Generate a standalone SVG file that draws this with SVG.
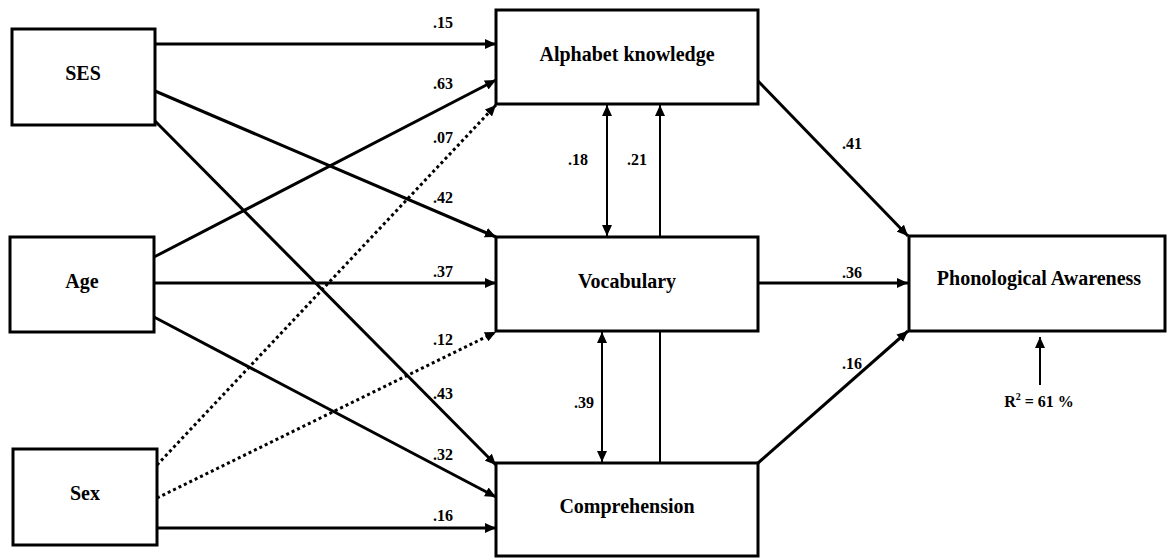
<svg xmlns="http://www.w3.org/2000/svg" width="1167" height="559" viewBox="0 0 1167 559">
<defs>
<marker id="ah" markerUnits="userSpaceOnUse" markerWidth="12" markerHeight="10" refX="11" refY="5" orient="auto">
<path d="M0,0 L11,5 L0,10 Z" fill="#000"/>
</marker>
<marker id="ahs" markerUnits="userSpaceOnUse" markerWidth="12" markerHeight="10" refX="0" refY="5" orient="auto">
<path d="M11,0 L0,5 L11,10 Z" fill="#000"/>
</marker>
<style>
.box{fill:#fff;stroke:#000;stroke-width:3}
.t{font-family:"Liberation Serif","Times New Roman",serif;font-weight:bold;font-size:20px;text-anchor:middle;fill:#000}
.n{font-family:"Liberation Serif","Times New Roman",serif;font-weight:bold;font-size:16px;text-anchor:middle;fill:#000}
.c{fill:none;stroke:#000;stroke-width:3}
.thin{fill:none;stroke:#000;stroke-width:2}
.dot{stroke-dasharray:3 3}
</style>
</defs>
<g id="connectors">
<line class="c" x1="155" y1="44" x2="496" y2="44" marker-end="url(#ah)"/>
<line class="c" x1="154" y1="257" x2="496" y2="80" marker-end="url(#ah)"/>
<line class="c dot" x1="157" y1="465" x2="496" y2="105" marker-end="url(#ah)"/>
<line class="c" x1="155" y1="91" x2="496" y2="237" marker-end="url(#ah)"/>
<line class="c" x1="155" y1="121" x2="496" y2="465" marker-end="url(#ah)"/>
<line class="c" x1="154" y1="283" x2="496" y2="283" marker-end="url(#ah)"/>
<line class="c" x1="154" y1="317" x2="496" y2="497" marker-end="url(#ah)"/>
<line class="c dot" x1="157" y1="498" x2="496" y2="332" marker-end="url(#ah)"/>
<line class="c" x1="157" y1="528" x2="496" y2="528" marker-end="url(#ah)"/>
<line class="thin" x1="607" y1="105" x2="607" y2="236" marker-start="url(#ahs)" marker-end="url(#ah)"/>
<line class="thin" x1="660" y1="236" x2="660" y2="105" marker-end="url(#ah)"/>
<line class="thin" x1="602" y1="332" x2="602" y2="462" marker-start="url(#ahs)" marker-end="url(#ah)"/>
<line class="thin" x1="660" y1="332" x2="660" y2="462"/>
<line class="c" x1="758" y1="81" x2="908" y2="236" marker-end="url(#ah)"/>
<line class="c" x1="758" y1="283" x2="908" y2="283" marker-end="url(#ah)"/>
<line class="c" x1="758" y1="463" x2="908" y2="331" marker-end="url(#ah)"/>
<line class="thin" x1="1040" y1="385" x2="1040" y2="337" marker-end="url(#ah)"/>
</g>
<g id="labels">
<text class="n" x="443" y="28">.15</text>
<text class="n" x="443" y="89">.63</text>
<text class="n" x="443" y="143">.07</text>
<text class="n" x="443" y="203">.42</text>
<text class="n" x="443" y="277">.37</text>
<text class="n" x="443" y="345">.12</text>
<text class="n" x="443" y="399">.43</text>
<text class="n" x="443" y="460">.32</text>
<text class="n" x="443" y="521">.16</text>
<text class="n" x="578" y="165">.18</text>
<text class="n" x="637" y="165">.21</text>
<text class="n" x="584" y="408">.39</text>
<text class="n" x="852" y="149">.41</text>
<text class="n" x="852" y="278">.36</text>
<text class="n" x="852" y="369">.16</text>
<text class="n" x="1039" y="407">R<tspan font-size="10" dy="-7">2</tspan><tspan dy="7"> = 61 %</tspan></text>
</g>
<g id="ses"><rect class="box" x="12" y="29" width="143" height="96"/><text class="t" x="83" y="80">SES</text></g>
<g id="age"><rect class="box" x="10" y="237" width="144" height="95"/><text class="t" x="82" y="288">Age</text></g>
<g id="sex"><rect class="box" x="13" y="449" width="144" height="96"/><text class="t" x="85" y="500">Sex</text></g>
<g id="alphabet"><rect class="box" x="496" y="10" width="262" height="94"/><text class="t" x="627" y="61">Alphabet knowledge</text></g>
<g id="vocabulary"><rect class="box" x="496" y="237" width="262" height="94"/><text class="t" x="627" y="288">Vocabulary</text></g>
<g id="comprehension"><rect class="box" x="496" y="463" width="262" height="93"/><text class="t" x="627" y="513">Comprehension</text></g>
<g id="phonological"><rect class="box" x="909" y="236" width="256" height="95"/><text class="t" x="1039" y="285">Phonological Awareness</text></g>
</svg>
